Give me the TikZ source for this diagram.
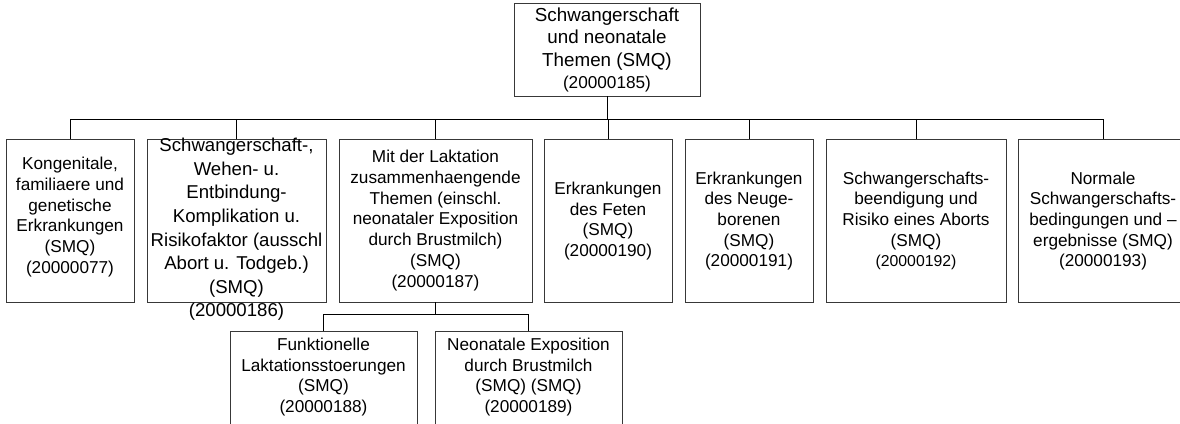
\documentclass[tikz,border=0pt]{standalone}
\usepackage{fontspec}
\setmainfont{Liberation Sans}
\begin{document}
\begin{tikzpicture}[x=1pt,y=-1pt,
  box/.style={draw=black!78, line width=0.9pt, inner sep=0pt, minimum width=#1},
  row/.style={box=#1, minimum height=163pt},
  txt/.style={align=center, inner sep=0pt, text=black, font=\fontsize{17.2}{20.7}\selectfont},
  link/.style={draw=black, line width=0.8pt}]
\useasboundingbox (0,0) rectangle (1180,423);
\clip (0,0) rectangle (1180,423);
% boxes
\node[box=186pt, minimum height=93pt] (top) at (607,49.5) {};
\node[row=128pt] (b1) at (70,220.5) {};
\node[row=179pt] (b2) at (236.5,220.5) {};
\node[row=193pt] (b3) at (435.5,220.5) {};
\node[row=128pt] (b4) at (608,220.5) {};
\node[row=128pt] (b5) at (749,220.5) {};
\node[row=180pt] (b6) at (916,220.5) {};
\node[row=170pt] (b7) at (1103,220.5) {};
\node[box=187pt, minimum height=110pt] (bA) at (323.5,386) {};
\node[box=187pt, minimum height=110pt] (bB) at (528.5,386) {};
% texts
\node[txt, font=\fontsize{18.8}{22.3}\selectfont] (ttop) at (607,50) {Schwangerschaft\\und neonatale\\Themen (SMQ)\\\fontsize{17.2}{22.3}\selectfont (20000185)};
\node[txt] (t1) at (70,217) {Kongenitale,\\familiaere und\\genetische\\Erkrankungen\\(SMQ)\\(20000077)};
\node[txt, font=\fontsize{18.6}{23.6}\selectfont] (t2) at (236.5,229.5) {Schwangerschaft-,\\Wehen- u.\\Entbindung-\\Komplikation u.\\Risikofaktor (ausschl\\Abort u. Todgeb.)\\(SMQ)\\(20000186)};
\node[txt] (t3) at (435.5,220.5) {Mit der Laktation\\zusammenhaengende\\Themen (einschl.\\neonataler Exposition\\durch Brustmilch)\\(SMQ)\\(20000187)};
\node[txt] (t4) at (608,221) {Erkrankungen\\des Feten\\(SMQ)\\(20000190)};
\node[txt] (t5) at (749,221) {Erkrankungen\\des Neuge-\\borenen\\(SMQ)\\(20000191)};
\node[txt] (t6) at (916,221) {Schwangerschafts-\\beendigung und\\Risiko eines Aborts\\(SMQ)\\\fontsize{15.8}{20.7}\selectfont (20000192)};
\node[txt] (t7) at (1103,221) {Normale\\Schwangerschafts-\\bedingungen und --\\ergebnisse (SMQ)\\(20000193)};
\node[txt] (tA) at (323.5,377) {Funktionelle\\Laktationsstoerungen\\(SMQ)\\(20000188)};
\node[txt] (tB) at (528.5,377) {Neonatale Exposition\\durch Brustmilch\\(SMQ) (SMQ)\\(20000189)};
% connectors
\coordinate (bus) at (0,119);
\coordinate (bus2) at (0,314);
\draw[link] (top.south) -- (top.south |- bus);
\draw[link] (b1.north) -- (b1.north |- bus) -| (b7.north);
\foreach \b in {b2,b3,b4,b5,b6} \draw[link] (\b.north) -- (\b.north |- bus);
\draw[link] (b3.south) -- (b3.south |- bus2);
\draw[link] (bA.north) -- (bA.north |- bus2) -| (bB.north);
\end{tikzpicture}
\end{document}
